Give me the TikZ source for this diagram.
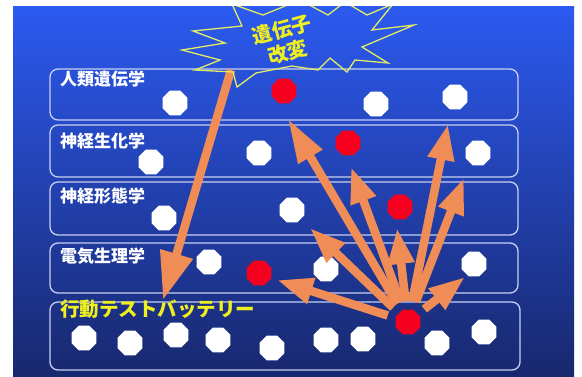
\documentclass[tikz,border=0pt]{standalone}
\usepackage{fontspec}
\newfontfamily\jpfont{Noto Sans CJK JP}
\usetikzlibrary{shapes.geometric,arrows.meta}
\definecolor{bgtop}{RGB}{44,90,240}
\definecolor{bgbot}{RGB}{24,40,110}
\definecolor{boxline}{RGB}{200,208,240}
\definecolor{arrcol}{RGB}{240,140,85}
\definecolor{dotred}{RGB}{245,0,30}
\definecolor{lblyellow}{RGB}{240,240,30}
\definecolor{starline}{RGB}{225,235,100}
\tikzstyle{rowbox} = [rectangle, draw=boxline, line width=1.3pt,
    rounded corners=8pt, minimum width=468pt, inner sep=0pt]
\tikzstyle{rowlabel} = [anchor=west, inner sep=0pt, text=white,
    font=\jpfont\bfseries\fontsize{17}{17}\selectfont]
\tikzstyle{wdot} = [regular polygon, regular polygon sides=8,
    minimum size=27pt, inner sep=0pt, fill=white]
\tikzstyle{rdot} = [wdot, fill=dotred]
\tikzstyle{fan} = [draw=arrcol, line width=8.5pt,
    -{Triangle[length=36pt,width=25pt]}, shorten <=8pt]
\tikzstyle{drop} = [draw=arrcol, line width=8.5pt,
    -{Triangle[length=48pt,width=32pt]}]
\begin{document}
\begin{tikzpicture}[x=1pt, y=-1pt]
\useasboundingbox (0,0) rectangle (582,376);
\shade[top color=bgtop, bottom color=bgbot] (13,6) rectangle (574,376);

    % Place nodes
\node[rowbox, minimum height=51pt] (gen) at (284,94.5) {};
\node[rowbox, minimum height=52pt] (chem) at (284,151) {};
\node[rowbox, minimum height=53pt] (morph) at (284,208.5) {};
\node[rowbox, minimum height=50pt] (phys) at (284,268) {};
\node[rowbox, minimum height=68pt, minimum width=470pt] (batt) at (285,336) {};

\node[rowlabel] (lgen) at (60,79) {人類遺伝学};
\node[rowlabel] (lchem) at (60,141) {神経生化学};
\node[rowlabel] (lmorph) at (60,196) {神経形態学};
\node[rowlabel] (lphys) at (60,256) {電気生理学};
\node[rowlabel, text=lblyellow, font=\jpfont\bfseries\fontsize{19.5}{19.5}\selectfont]
  (lbatt) at (60,309) {行動テストバッテリー};

\node[wdot] (g1) at (175,103) {}; \node[rdot] (g2) at (284,91) {};
\node[wdot] (g3) at (376,104) {}; \node[wdot] (g4) at (455,97) {};
\node[wdot] (c1) at (151,162) {}; \node[wdot] (c2) at (259,153) {};
\node[rdot] (c3) at (348,143) {}; \node[wdot] (c4) at (478,153) {};
\node[wdot] (m1) at (164,218) {}; \node[wdot] (m2) at (292,210) {};
\node[rdot] (m3) at (400,207) {};
\node[wdot] (p1) at (209,262) {}; \node[rdot] (p2) at (259,273) {};
\node[wdot] (p3) at (326,269) {}; \node[wdot] (p4) at (474,264) {};
\node[wdot] (b1) at (84,338) {}; \node[wdot] (b2) at (130,343) {};
\node[wdot] (b3) at (176,335) {}; \node[wdot] (b4) at (218,340) {};
\node[wdot] (b5) at (272,348) {}; \node[wdot] (b6) at (326,340) {};
\node[wdot] (b7) at (363,339) {}; \node[rdot] (r5) at (408,322) {};
\node[wdot] (b9) at (437,343) {}; \node[wdot] (b10) at (484,332) {};

\coordinate (burst) at (231,70); \coordinate (tbatt) at (163,300);
\coordinate (tgen1) at (288,119); \coordinate (tgen2) at (448,124);
\coordinate (tchem1) at (351,167); \coordinate (tchem2) at (464,178);
\coordinate (tmorph1) at (310,228); \coordinate (tmorph2) at (397,228);
\coordinate (tphys1) at (277,280); \coordinate (tphys2) at (465,277);

    % Draw edges
\path [drop] (burst) -- (tbatt);
\path [fan, -{Triangle[length=44pt,width=26pt]}] (r5) -- (tgen1);
\path [fan] (r5) -- (tgen2);
\path [fan] (r5) -- (tchem1);
\path [fan] (r5) -- (tchem2);
\path [fan] (r5) -- (tmorph1);
\path [fan] (r5) -- (tmorph2);
\path [fan] (r5) -- (tphys1);
\path [fan] (r5) -- (tphys2);

    % Burst
\begin{scope}
\clip (13,6) rectangle (574,376);
\draw[starline, line width=1.3pt, line join=miter]
  (232,4) -- (242,26) -- (193,31) -- (225,43) -- (182,50) -- (220,60)
  -- (195,70) -- (233,72) -- (237,87) -- (256,73) -- (292,66) -- (318,70)
  -- (330,58) -- (347,72) -- (355,60) -- (388,63) -- (362,47) -- (414,25)
  -- (372,30) -- (393,4) -- (367,15) -- (345,2) -- (328,15) -- (300,0)
  -- (263,15) -- cycle;
\end{scope}
\node[rotate=15, text=lblyellow, align=center, inner sep=0pt,
  font=\jpfont\bfseries\fontsize{20}{23}\selectfont] (gene) at (285,41) {遺伝子\\改変};
\end{tikzpicture}
\end{document}
